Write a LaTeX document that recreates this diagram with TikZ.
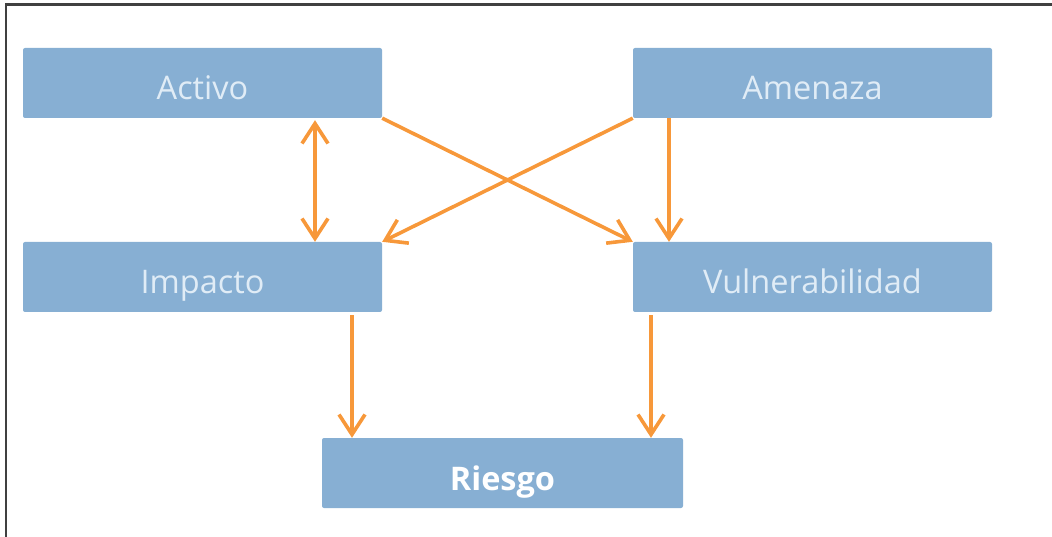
\documentclass[tikz,border=0pt]{standalone}
\usepackage{fontspec}
\setmainfont{Open Sans}
\usetikzlibrary{arrows.meta}

\definecolor{cajaazul}{RGB}{135,175,211}
\definecolor{textoclaro}{RGB}{224,236,246}
\definecolor{naranja}{RGB}{247,152,58}

\tikzset{
  caja/.style={fill=cajaazul, rounded corners=2pt, minimum width=359pt, minimum height=70pt,
    text=textoclaro, font=\fontsize{32.5}{38}\selectfont, inner sep=0pt,
    text height=40pt, text depth=6pt},
  flecha/.style={draw=naranja, line width=3.6pt, -{Straight Barb[length=20pt,width=26pt,line width=3.6pt]}},
}

\begin{document}
\begin{tikzpicture}[x=1pt,y=-1pt]
        \useasboundingbox (0,0) rectangle (1052,537);
        % Frame
        \draw[line width=2.5pt, black!75] (6,537) -- (6,4.5) -- (1052,4.5);

        % Boxes
        \node[caja] (activo) at (202.5,83) {Activo};
        \node[caja] (amenaza) at (812.5,83) {Amenaza};
        \node[caja] (impacto) at (202.5,277) {Impacto};
        \node[caja] (vulnerabilidad) at (812.5,277) {Vulnerabilidad};
        \node[caja, minimum width=361pt, text=white, font=\fontsize{32.5}{38}\selectfont\bfseries] (riesgo) at (502.5,473) {Riesgo};

        % Arrows between the top row and the middle row
        \draw[flecha, {Straight Barb[length=20pt,width=26pt,line width=3.6pt]}-{Straight Barb[length=20pt,width=26pt,line width=3.6pt]}]
            ([xshift=112.5pt, yshift=-2pt]activo.south) -- ([xshift=112.5pt]impacto.north);
        \draw[flecha] (activo.south east) -- (vulnerabilidad.north west);
        \draw[flecha] (amenaza.south west) -- (impacto.north east);
        \draw[flecha] ([xshift=-143.5pt]amenaza.south) -- ([xshift=-143.5pt]vulnerabilidad.north);

        % Arrows into Riesgo
        \draw[flecha] ([xshift=149.5pt, yshift=-3pt]impacto.south) -- ([xshift=149.5pt]impacto.south |- riesgo.north);
        \draw[flecha] ([xshift=-161.5pt, yshift=-3pt]vulnerabilidad.south) -- ([xshift=-161.5pt]vulnerabilidad.south |- riesgo.north);
    \end{tikzpicture}
\end{document}
